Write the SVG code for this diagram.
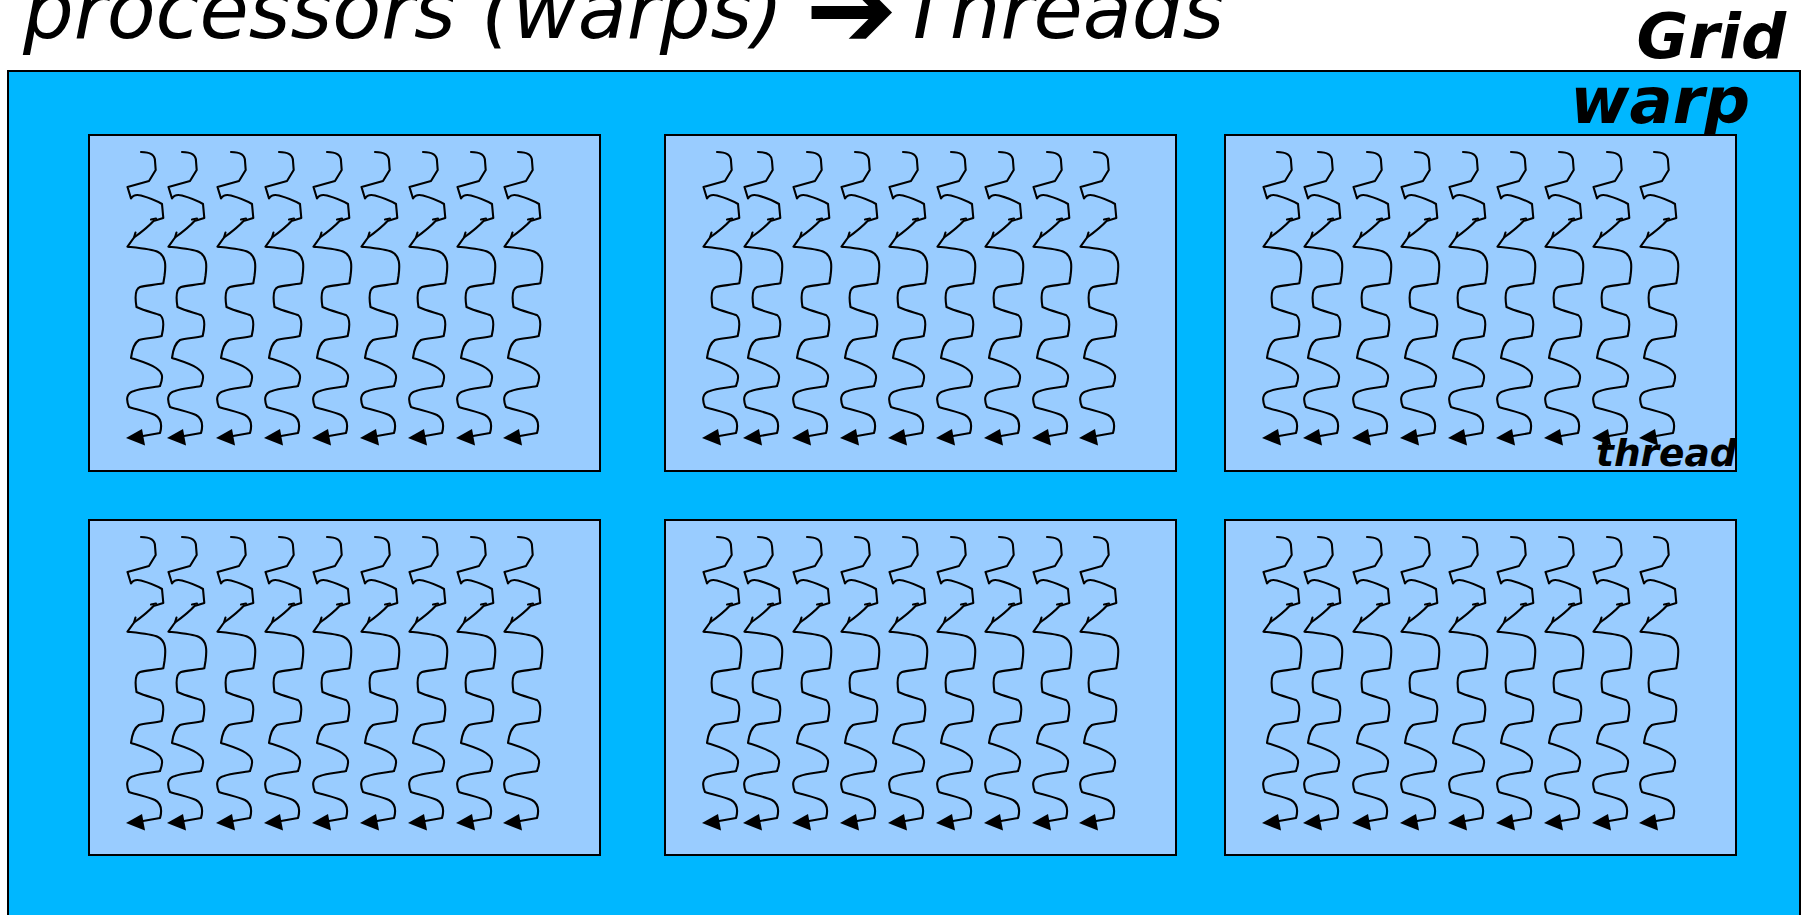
<svg xmlns="http://www.w3.org/2000/svg" xmlns:xlink="http://www.w3.org/1999/xlink" width="1803" height="915" viewBox="0 0 1803 915">
<style>
.grid{fill:#00B7FF;stroke:#000;stroke-width:2}
.warp{fill:#99CCFF;stroke:#000;stroke-width:2}
.thr{fill:none;stroke:#000;stroke-width:2.1;stroke-linejoin:round;stroke-linecap:round}
.head{fill:#000;stroke:none}
.lbl{font-family:"DejaVu Sans",sans-serif;font-weight:bold;font-style:italic;fill:#000}
.title{font-family:"DejaVu Sans",sans-serif;font-style:italic;font-size:80px;fill:#000}
</style>
<defs>
<g id="thread">
<path class="thr" d="M141,152 C150,152 155,155 155,161 L155.7,170 L149,181 L127.5,187 L131,198.5 C133,195 137,194.5 141,195.5 C150,198 157,201 162,204 L163.3,218 L153.5,221 C149,226 143,231 134,237.5 L127.5,246.7 C140,248 152,249 158,252 C166,256 166,265 164.5,276 L163.3,283.3 C155,285 145,285.5 140,287 C135,289 135,298 136.5,307 C145,311 155,313 160,315 C164,318 164,326 161.7,336 C155,338 145,338 139,340 C134,343 132,350 131,358 C140,361 150,364 156,368 C162,372 164,376 160,386 C152,388 142,388 134,391 C126,393 126,400 129,407 C138,410 148,412 155,415 C162,419 162,426 160,433 L143,436"/>
<path class="thr" d="M151,219.5 L156,218.5 M134,237.5 L135.5,232.5"/>
<polygon class="head" points="126,438 142,429 145,445.5"/>
</g>
<g id="threads">
<use xlink:href="#thread"/>
<use xlink:href="#thread" x="41"/>
<use xlink:href="#thread" x="90"/>
<use xlink:href="#thread" x="138"/>
<use xlink:href="#thread" x="186"/>
<use xlink:href="#thread" x="234"/>
<use xlink:href="#thread" x="282"/>
<use xlink:href="#thread" x="330"/>
<use xlink:href="#thread" x="377"/>
</g>
</defs>
<rect width="1803" height="915" fill="#fff"/>
<text id="title" class="title" x="23" y="38">processors (warps)<tspan font-size="110" dx="22" dy="9">➔</tspan><tspan dx="-22" dy="-9"> Threads</tspan></text>
<g id="grid">
<rect class="grid" x="8" y="71" width="1792" height="900"/>
</g>
<g id="block-r1c1"><rect class="warp" x="89" y="135" width="511" height="336"/><use xlink:href="#threads"/></g>
<g id="block-r1c2"><rect class="warp" x="665" y="135" width="511" height="336"/><use xlink:href="#threads" x="576"/></g>
<g id="block-r1c3"><rect class="warp" x="1225" y="135" width="511" height="336"/><use xlink:href="#threads" x="1136"/></g>
<g id="block-r2c1"><rect class="warp" x="89" y="520" width="511" height="335"/><use xlink:href="#threads" y="385"/></g>
<g id="block-r2c2"><rect class="warp" x="665" y="520" width="511" height="335"/><use xlink:href="#threads" x="576" y="385"/></g>
<g id="block-r2c3"><rect class="warp" x="1225" y="520" width="511" height="335"/><use xlink:href="#threads" x="1136" y="385"/></g>
<g id="connectors"></g>
<g id="labels">
<text class="lbl" x="1786" y="58" font-size="63" text-anchor="end">Grid</text>
<text class="lbl" x="1750" y="123" font-size="64" text-anchor="end">warp</text>
<text class="lbl" x="1596" y="466" font-size="37.5">thread</text>
</g>
</svg>
